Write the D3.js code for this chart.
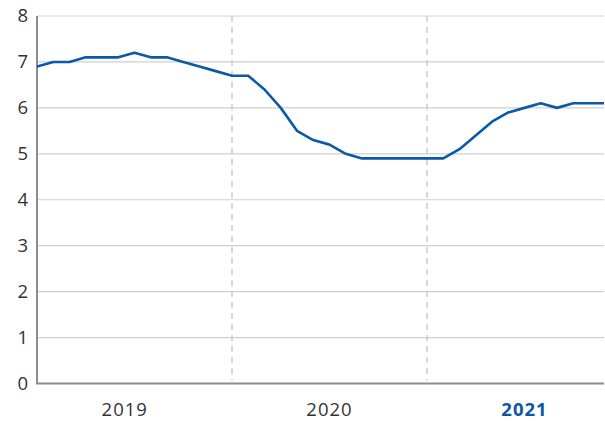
<!DOCTYPE html>
<html>
<head>
<meta charset="utf-8">
<script src="https://cdn.jsdelivr.net/npm/d3@7"></script>
<style>
  html, body { margin: 0; padding: 0; background: #fff; }
  svg { display: block; font-family: "Open Sans", "Noto Sans", sans-serif; }
</style>
</head>
<body>
<svg id="chart" width="605" height="421"></svg>
<script>
// Monthly values, Jan 2019 – Dec 2021
const months = d3.range(36);
const values = [
  6.9, 7.0, 7.0, 7.1, 7.1, 7.1, 7.2, 7.1, 7.1, 7.0, 6.9, 6.8,
  6.7, 6.7, 6.4, 6.0, 5.5, 5.3, 5.2, 5.0, 4.9, 4.9, 4.9, 4.9,
  4.9, 4.9, 5.1, 5.4, 5.7, 5.9, 6.0, 6.1, 6.0, 6.1, 6.1, 6.1
];
const yTicks = [0, 1, 2, 3, 4, 5, 6, 7, 8];
const years = ["2019", "2020", "2021"];
const yearLabelMonth = [5.4, 18, 30];   // label anchor, in months from Jan 2019
const yearBreaks = [12, 24];            // dashed separators

const svg = d3.select("#chart");
const plotLeft = 37, plotRight = 604, plotTop = 16, plotBottom = 383.5;

const x = d3.scaleLinear().domain([0, 36]).range([plotLeft, plotLeft + 36 * 16.25]);
const y = d3.scaleLinear().domain([0, 8]).range([plotBottom, plotTop]);

// horizontal gridlines
svg.append("g")
  .selectAll("line")
  .data(yTicks.filter(d => d > 0))
  .join("line")
  .attr("x1", plotLeft).attr("x2", plotRight)
  .attr("y1", d => y(d)).attr("y2", d => y(d))
  .attr("stroke", "#cfcfcf").attr("stroke-width", 1.2);

// dashed year separators
svg.append("g")
  .selectAll("line")
  .data(yearBreaks)
  .join("line")
  .attr("x1", d => x(d)).attr("x2", d => x(d))
  .attr("y1", plotTop).attr("y2", plotBottom - 3)
  .attr("stroke", "#cccccc").attr("stroke-width", 1.5)
  .attr("stroke-dasharray", "6,5");

// y axis labels
const yAxis = d3.axisLeft(y).tickValues(yTicks).tickSize(0).tickPadding(9).tickFormat(d3.format("d"));
const gy = svg.append("g").attr("transform", `translate(${plotLeft},0)`).call(yAxis);
gy.select(".domain").remove();
gy.selectAll("text")
  .attr("font-size", 18.5)
  .attr("fill", "#333")
  .attr("font-family", "'Open Sans', sans-serif");

// axis lines
svg.append("line")
  .attr("x1", plotLeft).attr("x2", plotLeft).attr("y1", plotTop).attr("y2", plotBottom)
  .attr("stroke", "#8c8c8c").attr("stroke-width", 2);
svg.append("line")
  .attr("x1", plotLeft - 1).attr("x2", plotRight).attr("y1", plotBottom).attr("y2", plotBottom)
  .attr("stroke", "#8c8c8c").attr("stroke-width", 2);

// year labels
svg.append("g")
  .selectAll("text")
  .data(years)
  .join("text")
  .attr("x", (d, i) => x(yearLabelMonth[i]))
  .attr("y", 415.7)
  .attr("text-anchor", "middle")
  .attr("font-size", 18.5)
  .attr("letter-spacing", 1)
  .attr("font-weight", (d, i) => i === years.length - 1 ? 700 : 400)
  .attr("fill", (d, i) => i === years.length - 1 ? "#0b57a4" : "#333")
  .text(d => d);

// data line
svg.append("defs").append("clipPath").attr("id", "plot")
  .append("rect").attr("x", plotLeft).attr("y", 0).attr("width", plotRight - plotLeft).attr("height", plotBottom);

svg.append("path")
  .datum(months)
  .attr("clip-path", "url(#plot)")
  .attr("fill", "none")
  .attr("stroke", "#0b5aa8")
  .attr("stroke-width", 2.6)
  .attr("stroke-linejoin", "round")
  .attr("d", d3.line().x(i => x(i)).y(i => y(values[i])));
</script>
</body>
</html>
